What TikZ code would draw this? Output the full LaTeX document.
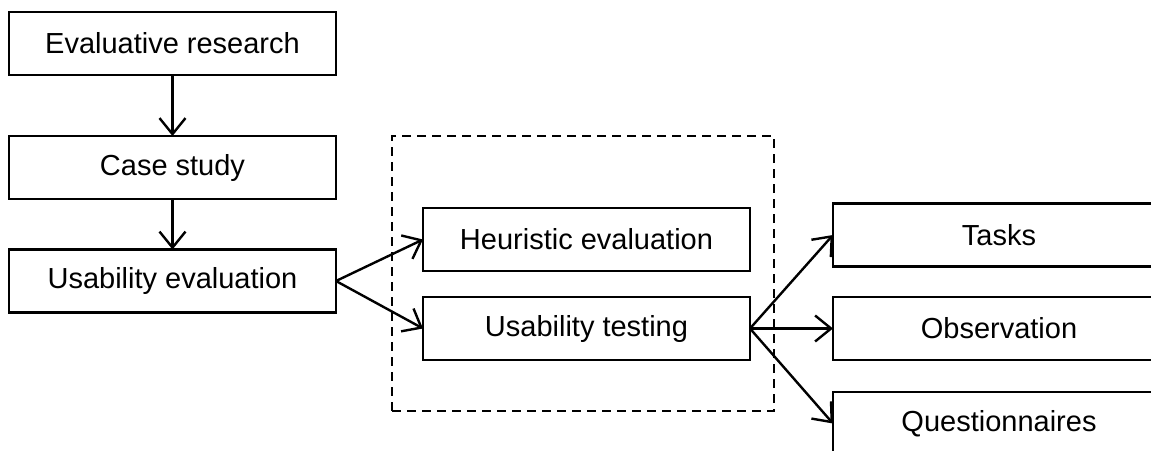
\documentclass[tikz,border=0pt]{standalone}
\usepackage{fontspec}
\setmainfont{Liberation Sans}
\usetikzlibrary{arrows.meta}
\begin{document}
\begin{tikzpicture}[x=1pt,y=-1pt,
  box/.style={draw, line width=2.4pt, minimum width=327pt, minimum height=63pt, inner sep=0pt, outer sep=0pt, font=\fontsize{29}{34}\selectfont},
  wbox/.style={box, minimum width=332pt},
  conn/.style={line width=2.4pt, -{Straight Barb[length=16pt,width=26pt,line width=2.4pt]}},
  grpbox/.style={draw, line width=2.4pt, dash pattern=on 9pt off 6pt, minimum width=382pt, minimum height=275pt, inner sep=0pt}]
\useasboundingbox (0,0) rectangle (1151,450);
\clip (0,0) rectangle (1151,450);
\node[grpbox] (grp) at (583,273.5) {};
\node[box] (er) at (172.5,43.5) {Evaluative research};
\node[box] (cs) at (172.5,167.5) {Case study};
\node[box] (ue) at (172.5,281) {Usability evaluation};
\node[box] (he) at (586.5,239.5) {Heuristic evaluation};
\node[box] (ut) at (586.5,328.5) {Usability testing};
\node[wbox] (ta) at (999,235) {Tasks};
\node[wbox] (ob) at (999,328.5) {Observation};
\node[wbox] (qu) at (999,423.5) {Questionnaires};
\draw[conn] (er) -- (cs);
\draw[conn] (cs) -- (ue);
\draw[conn] (ue.east) -- (he.west);
\draw[conn] (ue.east) -- (ut.west);
\draw[conn] (ut.east) -- (ta.west);
\draw[conn] (ut.east) -- (ob.west);
\draw[conn] (ut.east) -- (qu.west);
\end{tikzpicture}
\end{document}
